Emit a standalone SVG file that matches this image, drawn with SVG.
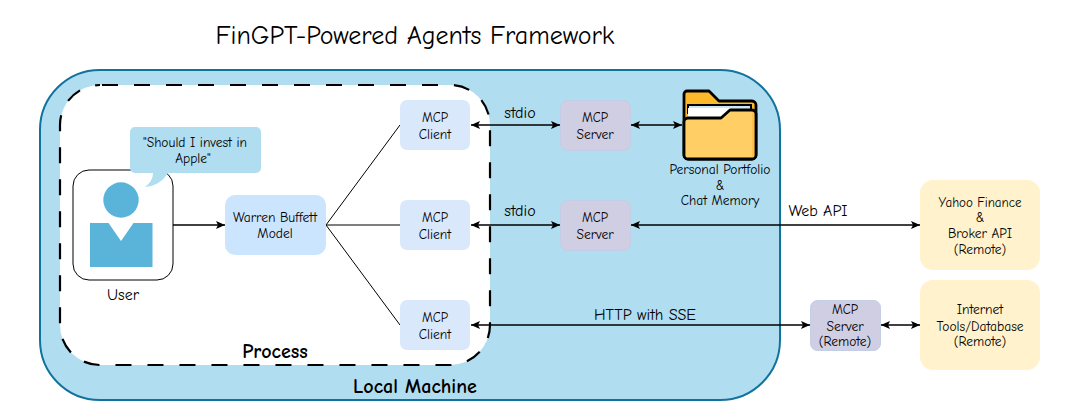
<svg xmlns="http://www.w3.org/2000/svg" width="1070" height="420" viewBox="0 0 1070 420">
<style>
text{font-family:"Comic Sans MS","Comic Neue",cursive;text-anchor:middle;fill:#000;font-size:13.5px}
.client{fill:#dae8fc}.server{fill:#d0cee2;stroke:#c4cde6;stroke-width:1}.remote{fill:#fff2cc}
.thin{fill:none;stroke:#000;stroke-width:1}
.arr{fill:none;stroke:#000;stroke-width:1.3;marker-end:url(#a);marker-start:url(#s)}
.one{marker-start:none}
.lab{font-size:16px}
.b{font-size:20px;font-weight:bold}
.m{font-size:13px}
</style>
<defs>
<marker id="a" markerUnits="userSpaceOnUse" markerWidth="10" markerHeight="10" refX="9" refY="5" orient="auto"><path d="M0,1 L9,5 L0,9 L2,5Z" fill="#000"/></marker>
<marker id="s" markerUnits="userSpaceOnUse" markerWidth="10" markerHeight="10" refX="0" refY="5" orient="auto"><path d="M9,1 L0,5 L9,9 L7,5Z" fill="#000"/></marker>
</defs>
<rect width="1070" height="420" fill="#fff"/>
<text x="415" y="44" style="font-size:26px">FinGPT-Powered Agents Framework</text>
<g id="local-machine"><rect x="40" y="70" width="740" height="330" rx="60" fill="#b1ddf0" stroke="#10739e" stroke-width="2"/><text x="415" y="393" class="b">Local Machine</text></g>
<g id="process"><rect x="60" y="85" width="430" height="280" rx="40" fill="#fff" stroke="#000" stroke-width="2.2" stroke-dasharray="16 16" stroke-dashoffset="30"/><text x="275" y="358" class="b">Process</text></g>
<g id="connectors">
<path class="thin" d="M326,225L400,125M326,225L400,225M326,225L400,325"/>
<path class="arr one" d="M173,225H225"/>
<path class="arr" d="M471,125H560"/><path class="arr" d="M631,125H682"/>
<path class="arr" d="M471,225H560"/><path class="arr" d="M631,225H920"/>
<path class="arr" d="M471,325H810"/><path class="arr" d="M881,325H920"/>
</g>
<text x="520" y="118" class="lab">stdio</text><text x="520" y="216" class="lab">stdio</text><text x="818" y="216" class="lab">Web API</text><text x="645" y="320" class="lab">HTTP with SSE</text>
<g id="user"><rect x="73" y="170" width="100" height="110" rx="16" fill="#fff" stroke="#000"/><circle cx="121" cy="200" r="17.7" fill="#5ab4da"/><path d="M90,223H108.500L121,241L133.500,223H152.500V267H90Z" fill="#5ab4da"/><text x="123" y="300" class="lab">User</text></g>
<g id="bubble"><path d="M135,127H256a5,5 0 0 1 5,5V168a5,5 0 0 1-5,5H168Q160,186 145,187Q153,181 153,173H135a5,5 0 0 1-5-5V132a5,5 0 0 1 5-5Z" fill="#b1ddf0"/><text x="195" y="147">"Should I invest in</text><text x="193" y="163">Apple"</text></g>
<g id="model"><rect x="225" y="195" width="101" height="60" rx="10" fill="#cce5ff"/><text x="275" y="222">Warren Buffett</text><text x="275" y="238">Model</text></g>
<g id="client1"><rect class="client" x="400" y="100" width="70" height="50" rx="7"/><text class="m" x="435" y="122">MCP</text><text x="435" y="139">Client</text></g>
<g id="client2"><rect class="client" x="400" y="200" width="70" height="50" rx="7"/><text class="m" x="435" y="222">MCP</text><text x="435" y="239">Client</text></g>
<g id="client3"><rect class="client" x="400" y="300" width="70" height="50" rx="7"/><text class="m" x="435" y="322">MCP</text><text x="435" y="339">Client</text></g>
<g id="server1"><rect class="server" x="560.500" y="100.500" width="70" height="50" rx="7"/><text class="m" x="595" y="122">MCP</text><text x="595" y="139">Server</text></g>
<g id="server2"><rect class="server" x="560.500" y="200.500" width="70" height="50" rx="7"/><text class="m" x="595" y="222">MCP</text><text x="595" y="239">Server</text></g>
<g id="server3"><rect class="server" x="810.500" y="300.500" width="70" height="50" rx="7"/><text class="m" x="845" y="314">MCP</text><text x="845" y="331">Server</text><text x="845" y="346">(Remote)</text></g>
<g id="folder"><path d="M687,91H709L719,101H752a4,4 0 0 1 4,4V155a4,4 0 0 1-4,4H688a4,4 0 0 1-4-4V94a3,3 0 0 1 3-3Z" fill="#fdb92b" stroke="#000" stroke-width="2.800" stroke-linejoin="round"/><path d="M688,105H751V113H688Z" fill="#c9e8f5" stroke="#000" stroke-width="2"/><path d="M688,108H731L724,118H688Z" fill="#fff"/><path d="M684,118H721L730,110H756V155a4,4 0 0 1-4,4H688a4,4 0 0 1-4-4Z" fill="#ffcf66"/><path d="M752,110H756V155a4,4 0 0 1-4,4Z" fill="#fdc04a"/><path d="M684,122a4,4 0 0 1 4-4H721L730,110H752a4,4 0 0 1 4,4V155a4,4 0 0 1-4,4H688a4,4 0 0 1-4-4Z" fill="none" stroke="#000" stroke-width="2.800" stroke-linejoin="round"/><text x="720" y="174">Personal Portfolio</text><text x="720" y="190">&amp;</text><text x="720" y="205">Chat Memory</text></g>
<g id="yahoo"><rect class="remote" x="920" y="180" width="120" height="90" rx="13"/><text class="m" x="980" y="207">Yahoo Finance</text><text x="980" y="222">&amp;</text><text x="980" y="238">Broker API</text><text x="980" y="254">(Remote)</text></g>
<g id="internet"><rect class="remote" x="920" y="280" width="120" height="90" rx="13"/><text x="980" y="314">Internet</text><text x="980" y="331">Tools/Database</text><text x="980" y="346">(Remote)</text></g>
</svg>
